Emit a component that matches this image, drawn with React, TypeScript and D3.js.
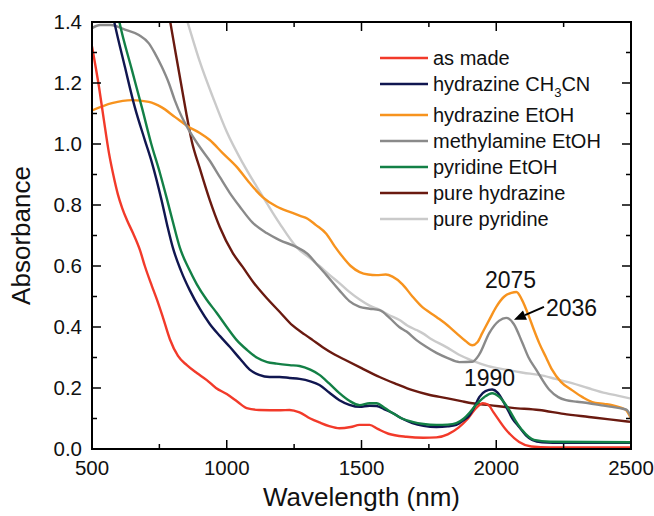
import React from "react";
import * as d3 from "d3";

type Pt = [number, number];

// Absorbance spectra, [wavelength nm, absorbance]
const asMade: Pt[] = [
  [500, 1.32], [526, 1.187], [544, 1.079], [563, 0.97], [580, 0.895], [596, 0.835], [612, 0.79],
  [630, 0.75], [652, 0.708], [678, 0.652], [696, 0.6], [722, 0.535], [741, 0.49], [762, 0.435],
  [789, 0.36], [819, 0.305], [852, 0.275], [889, 0.249], [926, 0.226], [960, 0.2], [1000, 0.18],
  [1040, 0.155], [1074, 0.134], [1120, 0.128], [1200, 0.127], [1233, 0.128], [1270, 0.12],
  [1310, 0.1], [1344, 0.087], [1380, 0.075], [1418, 0.068], [1460, 0.072], [1493, 0.079],
  [1530, 0.079], [1560, 0.066], [1600, 0.05], [1667, 0.04], [1730, 0.037], [1778, 0.038],
  [1820, 0.048], [1860, 0.07], [1890, 0.095], [1926, 0.135], [1950, 0.15], [1970, 0.145],
  [1990, 0.12], [2037, 0.062], [2085, 0.023], [2130, 0.008], [2200, 0.005], [2300, 0.005],
  [2500, 0.005],
];

const hydrazineCH3CN: Pt[] = [
  [560, 1.5], [581, 1.407], [622, 1.253], [659, 1.12], [696, 1.013], [722, 0.94], [758, 0.816],
  [780, 0.73], [800, 0.66], [830, 0.585], [863, 0.52], [900, 0.46], [937, 0.41], [975, 0.37],
  [1011, 0.335], [1050, 0.295], [1085, 0.26], [1120, 0.243], [1159, 0.236], [1196, 0.236],
  [1233, 0.233], [1270, 0.23], [1310, 0.222], [1344, 0.21], [1380, 0.185], [1418, 0.16],
  [1455, 0.145], [1493, 0.138], [1530, 0.142], [1556, 0.141], [1585, 0.13], [1615, 0.118],
  [1650, 0.1], [1689, 0.085], [1730, 0.076], [1778, 0.072], [1820, 0.074], [1852, 0.079],
  [1880, 0.095], [1900, 0.11], [1920, 0.14], [1937, 0.17], [1960, 0.19], [1985, 0.195],
  [2005, 0.185], [2037, 0.138], [2060, 0.1], [2085, 0.072], [2110, 0.045], [2133, 0.03],
  [2170, 0.022], [2250, 0.02], [2500, 0.02],
];

const hydrazineEtOH: Pt[] = [
  [500, 1.11], [574, 1.134], [648, 1.144], [711, 1.138], [759, 1.12], [807, 1.089], [859, 1.056],
  [900, 1.036], [937, 1.013], [985, 0.97], [1037, 0.925], [1085, 0.872], [1133, 0.826],
  [1185, 0.795], [1244, 0.774], [1270, 0.765], [1300, 0.755], [1330, 0.735], [1370, 0.705],
  [1400, 0.665], [1430, 0.63], [1460, 0.6], [1493, 0.58], [1525, 0.572], [1556, 0.57],
  [1590, 0.572], [1615, 0.565], [1652, 0.54], [1689, 0.5], [1720, 0.47], [1778, 0.433],
  [1820, 0.405], [1852, 0.38], [1885, 0.355], [1911, 0.34], [1930, 0.35], [1948, 0.38],
  [1975, 0.425], [2000, 0.466], [2030, 0.5], [2056, 0.512], [2075, 0.515], [2095, 0.49],
  [2122, 0.433], [2140, 0.39], [2159, 0.348], [2185, 0.3], [2207, 0.26], [2240, 0.22],
  [2281, 0.193], [2320, 0.17], [2356, 0.154], [2400, 0.148], [2430, 0.144], [2465, 0.135],
  [2481, 0.128], [2500, 0.1],
];

const methylamineEtOH: Pt[] = [
  [500, 1.38], [530, 1.39], [570, 1.39], [622, 1.375], [674, 1.357], [711, 1.33], [733, 1.298],
  [759, 1.253], [785, 1.2], [807, 1.144], [833, 1.089], [859, 1.046], [900, 0.99], [937, 0.945],
  [974, 0.892], [1011, 0.84], [1048, 0.795], [1096, 0.742], [1148, 0.708], [1196, 0.685],
  [1259, 0.662], [1300, 0.64], [1330, 0.61], [1370, 0.57], [1418, 0.52], [1455, 0.485],
  [1493, 0.466], [1530, 0.46], [1567, 0.455], [1604, 0.43], [1640, 0.4], [1667, 0.385],
  [1704, 0.357], [1740, 0.335], [1778, 0.315], [1820, 0.298], [1863, 0.285], [1911, 0.286],
  [1937, 0.31], [1974, 0.38], [2010, 0.42], [2037, 0.43], [2065, 0.41], [2096, 0.35],
  [2120, 0.3], [2148, 0.26], [2196, 0.195], [2230, 0.17], [2259, 0.16], [2300, 0.155],
  [2344, 0.15], [2390, 0.143], [2430, 0.138], [2470, 0.132], [2485, 0.128], [2500, 0.105],
];

const pyridineEtOH: Pt[] = [
  [580, 1.5], [600, 1.407], [648, 1.243], [685, 1.12], [720, 1.0], [752, 0.905], [778, 0.82],
  [800, 0.745], [826, 0.66], [860, 0.59], [889, 0.54], [925, 0.49], [963, 0.446], [1000, 0.4],
  [1037, 0.357], [1075, 0.325], [1111, 0.3], [1150, 0.285], [1185, 0.28], [1233, 0.275],
  [1270, 0.272], [1310, 0.26], [1344, 0.243], [1380, 0.215], [1418, 0.183], [1455, 0.158],
  [1493, 0.144], [1530, 0.15], [1556, 0.15], [1585, 0.135], [1615, 0.118], [1650, 0.1],
  [1689, 0.089], [1730, 0.082], [1778, 0.079], [1820, 0.08], [1852, 0.085], [1880, 0.1],
  [1900, 0.118], [1925, 0.145], [1955, 0.17], [1985, 0.183], [2010, 0.172], [2048, 0.128],
  [2070, 0.095], [2096, 0.062], [2120, 0.04], [2140, 0.03], [2200, 0.024], [2500, 0.022],
];

const pureHydrazine: Pt[] = [
  [770, 1.5], [789, 1.407], [810, 1.3], [830, 1.2], [850, 1.1], [870, 1.01], [900, 0.92],
  [937, 0.816], [974, 0.728], [1022, 0.643], [1059, 0.597], [1100, 0.545], [1148, 0.495],
  [1196, 0.45], [1244, 0.405], [1290, 0.375], [1319, 0.357], [1356, 0.334], [1400, 0.31],
  [1444, 0.29], [1500, 0.265], [1567, 0.236], [1630, 0.213], [1689, 0.193], [1750, 0.178],
  [1815, 0.167], [1870, 0.157], [1911, 0.15], [1974, 0.144], [2060, 0.135], [2159, 0.128],
  [2250, 0.115], [2344, 0.105], [2420, 0.097], [2500, 0.089],
];

const purePyridine: Pt[] = [
  [830, 1.47], [852, 1.407], [900, 1.27], [950, 1.15], [1000, 1.04], [1059, 0.938], [1111, 0.86],
  [1148, 0.807], [1196, 0.74], [1259, 0.662], [1310, 0.625], [1344, 0.6], [1380, 0.572],
  [1418, 0.544], [1455, 0.515], [1493, 0.49], [1530, 0.47], [1567, 0.456], [1600, 0.44],
  [1641, 0.423], [1670, 0.405], [1704, 0.39], [1726, 0.38], [1760, 0.36], [1815, 0.334],
  [1860, 0.31], [1911, 0.29], [1970, 0.272], [2037, 0.26], [2100, 0.25], [2159, 0.243],
  [2220, 0.23], [2281, 0.216], [2340, 0.2], [2407, 0.183], [2450, 0.175], [2500, 0.165],
];

const seriesNames = [
  "as made",
  "hydrazine CH3CN",
  "hydrazine EtOH",
  "methylamine EtOH",
  "pyridine EtOH",
  "pure hydrazine",
  "pure pyridine",
];
const seriesData = [asMade, hydrazineCH3CN, hydrazineEtOH, methylamineEtOH, pyridineEtOH, pureHydrazine, purePyridine];
const seriesColors = ["#f23a2a", "#101650", "#f7931e", "#8a8a8a", "#138046", "#6a1a10", "#cacaca"];
// draw order: lighter/background curves first
const drawOrder = [6, 5, 2, 3, 0, 1, 4];

const xTicks = [500, 1000, 1500, 2000, 2500];
const yTicks = [0, 0.2, 0.4, 0.6, 0.8, 1.0, 1.2, 1.4];

const peakLabels: { nm: number; a: number; text: string }[] = [
  { nm: 2075, a: 0.515, text: "2075" },
  { nm: 2036, a: 0.43, text: "2036" },
  { nm: 1990, a: 0.195, text: "1990" },
];

const W = 654;
const H = 516;
const M = { left: 92, right: 23, top: 22, bottom: 67 };
const FONT = "'Liberation Sans', Arial, Helvetica, sans-serif";

export default function App() {
  const x = d3.scaleLinear().domain([500, 2500]).range([M.left, W - M.right]);
  const y = d3.scaleLinear().domain([0, 1.4]).range([H - M.bottom, M.top]);
  const line = d3
    .line<Pt>()
    .x((d) => x(d[0]))
    .y((d) => y(d[1]))
    .curve(d3.curveMonotoneX);

  const x0 = x(500), x1 = x(2500), y0 = y(0), y1 = y(1.4);
  const majorLen = 9, minorLen = 5;
  const xMinor = d3.range(750, 2500, 500);
  const yMinor = d3.range(0.1, 1.4, 0.2);

  const tickLines: React.ReactElement[] = [];
  xTicks.forEach((t, i) => {
    tickLines.push(<line key={`xb${i}`} x1={x(t)} x2={x(t)} y1={y0} y2={y0 - majorLen} />);
    tickLines.push(<line key={`xt${i}`} x1={x(t)} x2={x(t)} y1={y1} y2={y1 + majorLen} />);
  });
  xMinor.forEach((t, i) => {
    tickLines.push(<line key={`xbm${i}`} x1={x(t)} x2={x(t)} y1={y0} y2={y0 - minorLen} />);
    tickLines.push(<line key={`xtm${i}`} x1={x(t)} x2={x(t)} y1={y1} y2={y1 + minorLen} />);
  });
  yTicks.forEach((t, i) => {
    tickLines.push(<line key={`yl${i}`} x1={x0} x2={x0 + majorLen} y1={y(t)} y2={y(t)} />);
    tickLines.push(<line key={`yr${i}`} x1={x1} x2={x1 - majorLen} y1={y(t)} y2={y(t)} />);
  });
  yMinor.forEach((t, i) => {
    tickLines.push(<line key={`ylm${i}`} x1={x0} x2={x0 + minorLen} y1={y(t)} y2={y(t)} />);
    tickLines.push(<line key={`yrm${i}`} x1={x1} x2={x1 - minorLen} y1={y(t)} y2={y(t)} />);
  });

  const legendX = 380;
  const legendY = (i: number) => 58 + i * 26 + (i >= 2 ? 5 : 0);

  const [p2075, p2036, p1990] = peakLabels;
  const arrowTail: Pt = [x(p2036.nm) + 38, y(p2036.a) - 11];
  const arrowTip: Pt = [x(p2036.nm) + 8, y(p2036.a) + 2];
  const ang = Math.atan2(arrowTip[1] - arrowTail[1], arrowTip[0] - arrowTail[0]);
  const headL = 12, headW = 5;
  const hb: Pt = [arrowTip[0] - headL * Math.cos(ang), arrowTip[1] - headL * Math.sin(ang)];
  const head = [
    arrowTip,
    [hb[0] + headW * Math.sin(ang), hb[1] - headW * Math.cos(ang)],
    [hb[0] - headW * Math.sin(ang), hb[1] + headW * Math.cos(ang)],
  ]
    .map((p) => p.join(","))
    .join(" ");

  return (
    <svg
      width={W}
      height={H}
      style={{ position: "absolute", left: 0, top: 0, background: "#fff" }}
      fontFamily={FONT}
    >
      <defs>
        <clipPath id="plotArea">
          <rect x={x0} y={y1} width={x1 - x0} height={y0 - y1} />
        </clipPath>
      </defs>

      <g clipPath="url(#plotArea)" fill="none" strokeWidth={2.4} strokeLinejoin="round">
        {drawOrder.map((i) => (
          <path key={i} d={line(seriesData[i]) || ""} stroke={seriesColors[i]} />
        ))}
      </g>

      <g stroke="#000" strokeWidth={1.5}>{tickLines}</g>
      <rect x={x0} y={y1} width={x1 - x0} height={y0 - y1} fill="none" stroke="#000" strokeWidth={2} />

      <g fontSize={20.5} fill="#111">
        {xTicks.map((t) => (
          <text key={t} x={x(t)} y={y0 + 26} textAnchor="middle">
            {t}
          </text>
        ))}
        {yTicks.map((t) => (
          <text key={t} x={x0 - 10} y={y(t) + 7} textAnchor="end">
            {t.toFixed(1)}
          </text>
        ))}
      </g>

      <text x={(x0 + x1) / 2} y={H - 10} textAnchor="middle" fontSize={26} fill="#111">
        Wavelength (nm)
      </text>
      <text
        transform={`translate(30,${(y0 + y1) / 2}) rotate(-90)`}
        textAnchor="middle"
        fontSize={26}
        fill="#111"
      >
        Absorbance
      </text>

      <g fontSize={20} fill="#111">
        {seriesNames.map((name, i) => (
          <g key={name}>
            <line
              x1={legendX}
              x2={legendX + 48}
              y1={legendY(i)}
              y2={legendY(i)}
              stroke={seriesColors[i]}
              strokeWidth={2.4}
            />
            <text x={legendX + 53} y={legendY(i) + 7}>
              {name === "hydrazine CH3CN" ? (
                <>
                  hydrazine CH
                  <tspan fontSize={13} dy={6}>3</tspan>
                  <tspan dy={-6}>CN</tspan>
                </>
              ) : (
                name
              )}
            </text>
          </g>
        ))}
      </g>

      <g fontSize={23} fill="#111">
        <text x={x(p2075.nm) - 6} y={y(p2075.a) - 4} textAnchor="middle">
          {p2075.text}
        </text>
        <text x={arrowTail[0] + 2} y={arrowTail[1] + 9}>
          {p2036.text}
        </text>
        <text x={x(p1990.nm) - 4} y={y(p1990.a) - 4} textAnchor="middle">
          {p1990.text}
        </text>
      </g>
      <line x1={arrowTail[0]} y1={arrowTail[1]} x2={hb[0]} y2={hb[1]} stroke="#000" strokeWidth={2} />
      <polygon points={head} fill="#000" />
    </svg>
  );
}
